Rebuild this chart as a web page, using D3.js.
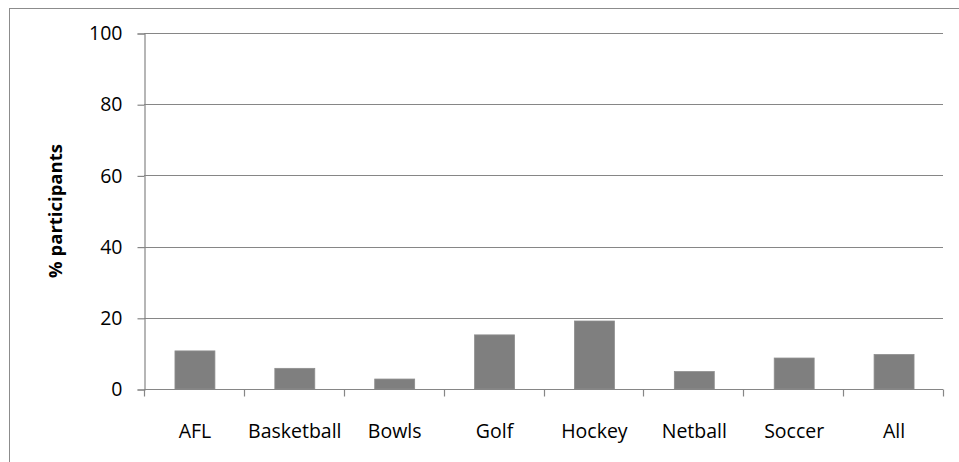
<!DOCTYPE html>
<html>
<head>
<meta charset="utf-8">
<script src="https://cdn.jsdelivr.net/npm/d3@7"></script>
<style>
  html, body { margin: 0; padding: 0; background: #fff; }
  svg { display: block; }
  text { font-family: "Open Sans", "Liberation Sans", sans-serif; fill: #000; }
</style>
</head>
<body>
<svg id="chart" width="959" height="462"></svg>
<script>
// Share of participants by sport
const categories = ["AFL", "Basketball", "Bowls", "Golf", "Hockey", "Netball", "Soccer", "All"];
const values = [10.7, 5.8, 2.8, 15.2, 19.1, 4.9, 8.7, 9.7];
const yTicks = [0, 20, 40, 60, 80, 100];
const yTitle = "% participants";

const W = 959, H = 462;
const margin = { left: 144, right: 16, top: 33, bottom: 73 };
const svg = d3.select("#chart");

// outer chart frame
svg.append("rect")
  .attr("x", 9.5).attr("y", 8.5)
  .attr("width", 960).attr("height", 470)
  .attr("fill", "none").attr("stroke", "#8c8c8c").attr("stroke-width", 1);

const x = d3.scaleBand()
  .domain(categories)
  .range([margin.left, W - margin.right])
  .paddingInner(0.6).paddingOuter(0.3);

const xBand = d3.scaleBand()
  .domain(categories)
  .range([margin.left, W - margin.right]);

const y = d3.scaleLinear()
  .domain([0, 100])
  .range([H - margin.bottom, margin.top]);

// horizontal gridlines
svg.append("g")
  .selectAll("line")
  .data(yTicks.filter(d => d > 0))
  .join("line")
  .attr("x1", margin.left).attr("x2", W - margin.right)
  .attr("y1", d => Math.round(y(d)) + 0.5).attr("y2", d => Math.round(y(d)) + 0.5)
  .attr("stroke", "#868686").attr("stroke-width", 1.2);

// bars
svg.append("g")
  .selectAll("rect")
  .data(values)
  .join("rect")
  .attr("x", (d, i) => x(categories[i]) + 1)
  .attr("width", x.bandwidth())
  .attr("y", d => y(d))
  .attr("height", d => y(0) - y(d))
  .attr("fill", "#7f7f7f")
  .attr("stroke", "#8e8e8e").attr("stroke-width", 0.8);

// y axis
const yAxis = d3.axisLeft(y)
  .tickValues(yTicks)
  .tickSize(7)
  .tickPadding(15)
  .tickFormat(d3.format("d"));
const gy = svg.append("g")
  .attr("transform", `translate(${margin.left + 0.5},0.5)`)
  .call(yAxis);
gy.select(".domain").attr("stroke", "#868686").attr("stroke-width", 1.2);
gy.selectAll(".tick line").attr("stroke", "#868686").attr("stroke-width", 1.2);
gy.selectAll(".tick text")
  .attr("font-size", 19.5)
  .attr("font-family", "Open Sans, sans-serif")
  .attr("fill", "#000");

// x axis with tick marks at band boundaries
const gx = svg.append("g")
  .attr("transform", `translate(0,${Math.round(y(0)) + 0.5})`);
gx.append("line")
  .attr("x1", margin.left).attr("x2", W - margin.right)
  .attr("stroke", "#868686").attr("stroke-width", 1.2);
const bounds = categories.map(c => xBand(c)).concat([W - margin.right]);
gx.selectAll("line.tk")
  .data(bounds)
  .join("line")
  .attr("class", "tk")
  .attr("x1", d => Math.round(d) + 0.5).attr("x2", d => Math.round(d) + 0.5)
  .attr("y1", 0).attr("y2", 7)
  .attr("stroke", "#868686").attr("stroke-width", 1.2);
gx.selectAll("text")
  .data(categories)
  .join("text")
  .attr("x", d => xBand(d) + xBand.bandwidth() / 2 + 1)
  .attr("y", 48)
  .attr("text-anchor", "middle")
  .attr("font-size", 19.5)
  .text(d => d);

// y axis title
svg.append("text")
  .attr("transform", `translate(62,${(y(0) + y(100)) / 2}) rotate(-90)`)
  .attr("text-anchor", "middle")
  .attr("font-size", 18.5)
  .attr("font-weight", "bold")
  .text(yTitle);
</script>
</body>
</html>
